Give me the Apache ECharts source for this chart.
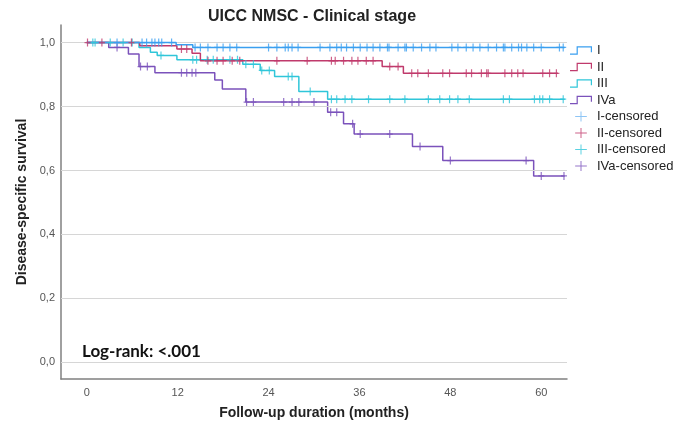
<!DOCTYPE html>
<html><head><meta charset="utf-8">
<script src="https://cdn.jsdelivr.net/npm/echarts@6/dist/echarts.min.js"></script>
<style>html,body{margin:0;padding:0;background:#fff}#c{width:686px;height:433px}</style>
</head><body><div id="c"></div>
<script>
const xTicks = [0, 12, 24, 36, 48, 60];
const yTicks = [0, 0.2, 0.4, 0.6, 0.8, 1.0];
const groups = ['I', 'II', 'III', 'IVa'];
const colors = ['#3a9ff0', '#c03a6c', '#2fc6d9', '#7b52bb'];
const legendCensorColors = ['#72b6f2', '#c03a6c', '#2fc6d9', '#7b52bb'];

const timesI = [0, 11.8, 14.0, 63.1];
const survI  = [1.0, 0.993, 0.985, 0.985];
const timesII = [0, 7.0, 11.9, 13.9, 15.0, 39.0, 41.8, 62.2];
const survII  = [1.0, 0.99, 0.98, 0.967, 0.943, 0.925, 0.904, 0.904];
const timesIII = [0, 6.9, 8.4, 9.3, 11.9, 20.6, 22.9, 24.8, 28.0, 31.8, 63.1];
const survIII  = [1.0, 0.985, 0.97, 0.96, 0.946, 0.932, 0.913, 0.894, 0.847, 0.823, 0.823];
const timesIVa = [0, 2.9, 5.5, 6.9, 9.0, 16.9, 17.9, 21.0, 31.8, 33.9, 35.3, 43.0, 47.0, 59.0, 63.1];
const survIVa  = [1.0, 0.985, 0.964, 0.925, 0.906, 0.883, 0.855, 0.814, 0.782, 0.746, 0.714, 0.675, 0.631, 0.583, 0.583];

const censI = [4.0, 7.3, 7.9, 8.6, 9.0, 9.5, 9.9, 11.2, 14.3, 15.0, 16.0, 17.2, 18.0, 18.9, 19.8, 24.0, 25.1, 26.2, 26.6, 27.1, 27.9, 30.8, 32.1, 33.0, 33.6, 34.3, 35.2, 36.1, 37.0, 37.8, 38.7, 39.7, 39.9, 41.1, 42.0, 42.2, 43.1, 44.2, 45.3, 46.1, 48.2, 49.0, 50.1, 51.0, 51.9, 53.0, 54.1, 55.0, 55.2, 56.1, 57.0, 57.4, 58.1, 59.0, 60.0, 62.4, 62.9];
const censII = [0.1, 2.0, 5.9, 12.5, 13.2, 16.0, 17.2, 18.0, 19.2, 20.2, 25.1, 29.1, 32.3, 32.8, 33.9, 35.0, 35.8, 36.9, 37.8, 40.0, 41.1, 42.9, 43.7, 45.1, 47.0, 47.9, 50.1, 50.8, 52.1, 52.8, 53.0, 55.2, 56.1, 56.9, 57.6, 60.2, 61.1, 62.0];
const censIII = [0.8, 1.1, 3.1, 4.8, 6.0, 9.8, 14.0, 14.5, 15.9, 16.7, 18.9, 19.9, 21.0, 22.0, 23.1, 24.1, 26.6, 27.1, 29.5, 32.3, 33.0, 34.1, 35.0, 37.2, 40.0, 42.0, 45.1, 46.6, 47.9, 49.0, 50.5, 55.0, 55.8, 59.1, 59.8, 60.2, 61.1, 62.9];
const censIVa = [4.0, 7.1, 8.0, 12.5, 13.2, 13.9, 14.4, 21.1, 22.0, 26.0, 27.1, 28.0, 30.0, 32.2, 33.0, 35.1, 36.1, 40.0, 44.0, 48.0, 58.0, 60.0, 63.0];

const timesAll = [timesI, timesII, timesIII, timesIVa];
const survAll = [survI, survII, survIII, survIVa];
const censAll = [censI, censII, censIII, censIVa];

function survAt(times, surv, t) {
  let s = surv[0];
  for (let i = 0; i < times.length; i++) { if (times[i] <= t) s = surv[i]; }
  return s;
}

const stepIcon = 'path://M0,7.2H7.8V8.4H0Z M6.6,0H7.8V8.4H6.6Z M6.6,0H22V1.2H6.6Z M20.8,0H22V6H20.8Z';
const plusIcon = 'path://M0,5.4H14V6.6H0Z M6.4,0H7.6V12H6.4Z';
const plusSym = 'path://M0,3.4H6V4.6H0Z M2.4,0H3.6V8H2.4Z';

const series = [];
series.push({
  type: 'line', name: '_grid', data: [], silent: true,
  markLine: {
    silent: true, symbol: 'none', label: {show: false},
    lineStyle: {color: '#d6d6d6', type: 'solid', width: 1},
    data: yTicks.map(v => ({yAxis: v}))
  }
});
groups.forEach((g, i) => {
  series.push({
    type: 'line', name: g, step: 'end', showSymbol: false, symbol: 'none',
    color: colors[i],
    lineStyle: {color: colors[i], width: 1.5},
    data: timesAll[i].map((t, k) => [t, survAll[i][k]]),
    z: 3 + (3 - i)
  });
});
groups.forEach((g, i) => {
  series.push({
    type: 'scatter', name: g + '-censored', symbol: plusSym, symbolSize: [6, 8],
    color: legendCensorColors[i],
    itemStyle: {color: colors[i]},
    data: censAll[i].map(t => [t, survAt(timesAll[i], survAll[i], t)]),
    z: 10 + (3 - i)
  });
});

const legendData = [];
groups.forEach((g, i) => legendData.push({name: g, icon: stepIcon, itemStyle: {color: colors[i]}}));
groups.forEach((g, i) => legendData.push({name: g + '-censored', icon: plusIcon, itemStyle: {color: legendCensorColors[i]}}));

const chart = echarts.init(document.getElementById('c'), null, {renderer: 'canvas'});
chart.setOption({
  animation: false,
  backgroundColor: '#fff',
  title: {
    text: 'UICC NMSC - Clinical stage', left: 203, top: 4,
    textStyle: {fontFamily: 'Liberation Sans', fontSize: 16, fontWeight: 'bold', color: '#222'}
  },
  grid: {left: 61, right: 119, top: 25, bottom: 54, containLabel: false},
  legend: {
    orient: 'vertical', left: 570, top: 44, padding: 0,
    itemWidth: 22, itemHeight: 10, itemGap: 3.5,
    textStyle: {fontFamily: 'Liberation Sans', fontSize: 13, color: '#222', lineHeight: 13},
    data: legendData
  },
  xAxis: {
    type: 'value', min: -3.4, max: 63.4,
    name: 'Follow-up duration (months)', nameLocation: 'middle', nameGap: 27,
    nameTextStyle: {fontFamily: 'Liberation Sans', fontSize: 14, fontWeight: 'bold', color: '#222'},
    axisLine: {show: true, onZero: false, lineStyle: {color: '#808080', width: 1.5}},
    axisTick: {show: false},
    splitLine: {show: false},
    axisLabel: {customValues: xTicks, margin: 8, fontFamily: 'Liberation Sans', fontSize: 11, color: '#555'}
  },
  yAxis: {
    type: 'value', min: -0.052, max: 1.055,
    name: 'Disease-specific survival', nameLocation: 'middle', nameGap: 32, nameRotate: 90,
    nameTextStyle: {fontFamily: 'Liberation Sans', fontSize: 14, fontWeight: 'bold', color: '#222'},
    axisLine: {show: true, onZero: false, lineStyle: {color: '#808080', width: 1.5}},
    axisTick: {show: false},
    splitLine: {show: false},
    axisLabel: {customValues: yTicks, margin: 6, fontFamily: 'Liberation Sans', fontSize: 11, color: '#555',
      formatter: v => v.toFixed(1).replace('.', ',')}
  },
  graphic: [{
    type: 'text', left: 82, top: 343,
    style: {text: 'Log-rank: <.001', font: 'bold 17px Lato', fill: '#111'}
  }],
  series: series
});
</script>
</body></html>
